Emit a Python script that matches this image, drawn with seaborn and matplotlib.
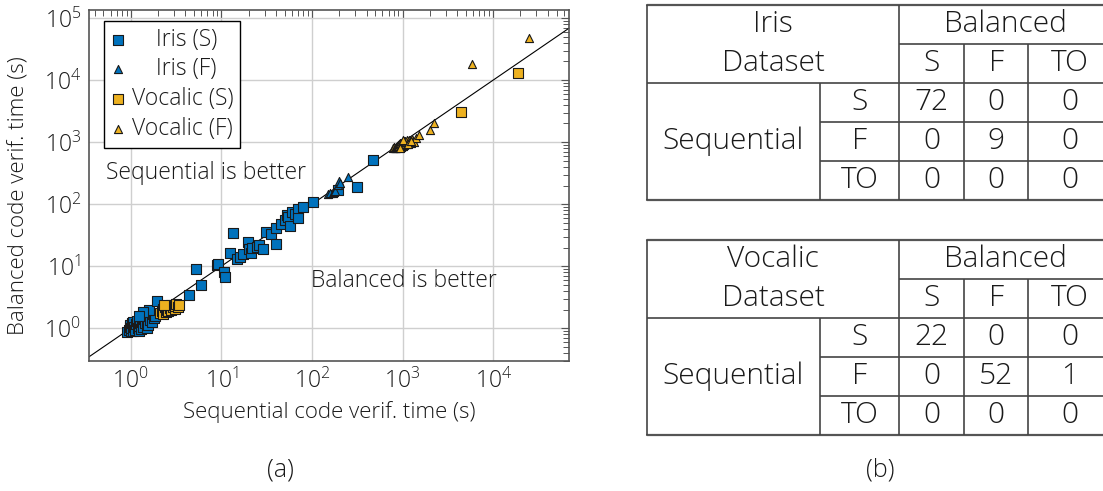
import matplotlib
matplotlib.use("Agg")
import matplotlib.pyplot as plt
import numpy as np
import pandas as pd
import seaborn as sns
from matplotlib.ticker import LogLocator, NullFormatter

# ---------------------------------------------------------------- data
# Verification times in seconds: (sequential, balanced)
iris_s_seq = [0.92, 0.95, 0.97, 0.98, 1.00, 1.02, 1.03, 1.05, 1.07, 1.10, 1.12, 1.15,
              1.18, 1.20, 1.22, 1.25, 1.28, 1.30, 1.32, 1.35, 1.40, 1.45, 1.50, 1.50,
              1.55, 1.60, 1.65, 1.70, 1.75, 1.80, 1.85, 1.60, 1.38, 1.95, 1.25,
              4.4, 5.25, 5.9, 9.0, 9.3, 10.7, 11.1, 12.6, 13.3, 15.0, 16.0, 17.4, 19.5,
              20.0, 21.0, 22.0, 24.5, 26.0, 28.5, 31.5, 35.0, 40.0, 40.6, 45.0, 50.3,
              52.5, 55.0, 57.0, 59.6, 65.0, 70.5, 70.5, 80.0, 103.0, 195.0, 314.0, 473.0]
iris_s_bal = [0.88, 0.95, 1.05, 1.12, 0.92, 1.00, 1.20, 0.90, 1.28, 1.05, 0.95, 1.15,
              1.30, 1.00, 0.92, 1.10, 1.22, 0.98, 1.28, 1.05, 1.40, 1.20, 1.00, 1.30,
              1.12, 1.60, 1.35, 1.25, 1.70, 1.45, 1.55, 1.95, 1.85, 2.70, 1.60,
              3.4, 8.9, 5.0, 10.5, 11.0, 8.2, 6.6, 16.6, 34.8, 13.0, 14.3, 15.8, 25.0,
              19.0, 16.6, 20.0, 20.7, 22.0, 18.8, 36.0, 33.0, 23.0, 40.8, 48.0, 55.7,
              67.0, 62.0, 44.6, 76.0, 70.0, 83.0, 59.0, 90.0, 110.0, 170.0, 187.0, 519.0]

iris_f_seq = [151, 160, 171, 175, 180, 195, 198, 205, 250]
iris_f_bal = [145, 150, 154, 160, 165, 204, 238, 220, 272]

vocalic_s_seq = [2.10, 2.20, 2.25, 2.30, 2.40, 2.45, 2.50, 2.55, 2.60, 2.70, 2.75,
                 2.80, 2.90, 3.00, 3.05, 3.10, 3.20, 3.30, 3.40, 2.35, 4370, 18800]
vocalic_s_bal = [1.75, 1.90, 2.05, 1.70, 2.20, 1.85, 2.00, 2.30, 1.90, 2.10, 2.35,
                 1.95, 2.20, 2.40, 2.05, 2.30, 2.45, 2.20, 2.35, 2.40, 3030, 13200]

vocalic_f_seq = [780, 800, 820, 840, 850, 860, 870, 880, 890, 900, 910, 920, 930, 940,
                 950, 960, 970, 980, 990, 1000, 1010, 1020, 1030, 1040, 1050, 1060,
                 1080, 1100, 1120, 1140, 1160, 1180, 1200, 1230, 1260, 1300, 1350,
                 1400, 940, 1000, 1150, 1250, 1510, 1995, 2210, 5880, 24800]
vocalic_f_bal = [800, 820, 790, 850, 800, 880, 830, 900, 860, 820, 940, 880, 850, 960,
                 900, 830, 980, 920, 870, 1010, 950, 880, 1040, 980, 900, 1060,
                 1000, 940, 1080, 1020, 960, 1100, 1050, 980, 1120, 1060, 1000,
                 1150, 800, 1100, 950, 1050, 1310, 1590, 2030, 18000, 47500]

series_labels = ["    Iris (S)", "    Iris (F)", "Vocalic (S)", "Vocalic (F)"]

# Outcome tables: rows = sequential (S, F, TO), columns = balanced (S, F, TO)
outcomes = ["S", "F", "TO"]
iris_counts = [[72, 0, 0], [0, 9, 0], [0, 0, 0]]
vocalic_counts = [[22, 0, 0], [0, 52, 1], [0, 0, 0]]

# ---------------------------------------------------------------- style
sns.set_theme(style="white")
plt.rcParams["font.family"] = ["Open Sans", "DejaVu Sans"]
plt.rcParams["font.weight"] = "light"
plt.rcParams["axes.labelweight"] = "light"
plt.rcParams["mathtext.fontset"] = "custom"
plt.rcParams["mathtext.rm"] = "Open Sans:light"
plt.rcParams["mathtext.it"] = "Open Sans:italic"
plt.rcParams["mathtext.bf"] = "Open Sans:bold"

BLUE = "#0072BD"
YELLOW = "#EDB120"
TXT = "#1a1a1a"
FS = 16.5
W, H = 1103, 491

fig = plt.figure(figsize=(W / 100, H / 100), dpi=100)
ax = fig.add_axes([89.3 / W, 1 - 360.7 / H, 480 / W, 350.7 / H])

frames = {
    series_labels[0]: (iris_s_seq, iris_s_bal, BLUE, "s", 46),
    series_labels[1]: (iris_f_seq, iris_f_bal, BLUE, "^", 34),
    series_labels[2]: (vocalic_s_seq, vocalic_s_bal, YELLOW, "s", 46),
    series_labels[3]: (vocalic_f_seq, vocalic_f_bal, YELLOW, "^", 34),
}
for label, (xs, ys, color, marker, size) in frames.items():
    df = pd.DataFrame({"seq": xs, "bal": ys})
    sns.scatterplot(data=df, x="seq", y="bal", ax=ax, color=color, marker=marker,
                    s=size, edgecolor="#1a1a1a", linewidth=0.8, label=label, zorder=3)

ax.set_xscale("log")
ax.set_yscale("log")
xlim = (10 ** -0.457, 10 ** 4.84)
ylim = (10 ** -0.523, 10 ** 5.13)
ax.set_xlim(*xlim)
ax.set_ylim(*ylim)

# y = x reference line
diag = np.array([min(xlim[0], ylim[0]), max(xlim[1], ylim[1])])
ax.plot(diag, diag, color="black", lw=0.8, zorder=2)

for axis in (ax.xaxis, ax.yaxis):
    axis.set_major_locator(LogLocator(base=10, numticks=10))
    axis.set_minor_locator(LogLocator(base=10, subs=np.arange(2, 10), numticks=20))
    axis.set_minor_formatter(NullFormatter())
ax.grid(True, which="major", color="#cfcfcf", lw=1.0, zorder=0)
ax.tick_params(which="both", direction="in", top=True, right=True, colors="#555555",
               labelcolor=TXT, labelsize=FS)
ax.tick_params(which="major", length=6, width=0.8, pad=6)
ax.tick_params(which="minor", length=4, width=0.7)
for sp in ax.spines.values():
    sp.set_color("#555555")
    sp.set_linewidth(1.2)

ax.set_xlabel("Sequential code verif. time (s)", fontsize=16, labelpad=5, color=TXT,
              fontweight="light")
ax.set_ylabel("Balanced code verif. time (s)", fontsize=16, color=TXT,
              fontweight="light")
ax.yaxis.set_label_coords(-0.124, 0.47)

ax.text(10 ** -0.27, 10 ** 2.5, "Sequential is better", fontsize=FS, va="center",
        ha="left", color=TXT)
ax.text(10 ** 1.99, 10 ** 0.76, "Balanced is better", fontsize=FS, va="center",
        ha="left", color=TXT)

leg = ax.legend(loc="upper left", bbox_to_anchor=(15 / 480, 1 - 10.7 / 350.7),
                borderaxespad=0, fontsize=FS, frameon=True, fancybox=False,
                handlelength=0.6, handletextpad=0.3, labelspacing=0.25,
                borderpad=0.3, markerscale=1.0)
leg.get_frame().set_edgecolor("black")
leg.get_frame().set_linewidth(1.0)
leg.get_frame().set_alpha(1.0)
for t in leg.get_texts():
    t.set_color(TXT)

fig.text(280 / W, 1 - 470 / H, "(a)", fontsize=18, ha="center", va="center", color=TXT)

# ---------------------------------------------------------------- tables
tax = fig.add_axes([0, 0, 1, 1], zorder=-1)
tax.set_xlim(0, W)
tax.set_ylim(H, 0)
tax.axis("off")

XL, XSEQ, XBAL, XC1, XC2, XR = 647, 820, 899, 964, 1028, 1112
ROW_OFF = [0, 39, 78, 117, 156, 195]
LC = "#444444"
TFS = 21.5


def draw_table(top, name, counts):
    y = [top + o for o in ROW_OFF]
    kw = dict(color=LC, lw=1.2, solid_capstyle="butt")
    tax.plot([XL, XR], [y[0], y[0]], color="#555555", lw=1.6)
    tax.plot([XL, XR], [y[5], y[5]], color="#555555", lw=1.6)
    tax.plot([XBAL, XR], [y[1], y[1]], **kw)
    tax.plot([XL, XR], [y[2], y[2]], **kw)
    tax.plot([XSEQ, XR], [y[3], y[3]], **kw)
    tax.plot([XSEQ, XR], [y[4], y[4]], **kw)
    tax.plot([XL, XL], [y[0], y[5]], **kw)
    tax.plot([XBAL, XBAL], [y[0], y[5]], **kw)
    tax.plot([XC1, XC1], [y[1], y[5]], **kw)
    tax.plot([XC2, XC2], [y[1], y[5]], **kw)
    tax.plot([XSEQ, XSEQ], [y[2], y[5]], **kw)

    tk = dict(fontsize=TFS, ha="center", va="center", color=TXT)
    cx = [(XBAL + XC1) / 2, (XC1 + XC2) / 2, (XC2 + XR) / 2]
    tax.text((XL + XBAL) / 2, (y[0] + y[1]) / 2, name, **tk)
    tax.text((XL + XBAL) / 2, (y[1] + y[2]) / 2, "Dataset", **tk)
    tax.text((XBAL + XR) / 2, (y[0] + y[1]) / 2, "Balanced", **tk)
    for j, lab in enumerate(outcomes):
        tax.text(cx[j], (y[1] + y[2]) / 2, lab, **tk)
    tax.text((XL + XSEQ) / 2, (y[2] + y[5]) / 2, "Sequential", **tk)
    for i, lab in enumerate(outcomes):
        yc = (y[2 + i] + y[3 + i]) / 2
        tax.text((XSEQ + XBAL) / 2, yc, lab, **tk)
        for j in range(3):
            tax.text(cx[j], yc, str(counts[i][j]), **tk)


draw_table(5, "Iris", iris_counts)
draw_table(240, "Vocalic", vocalic_counts)

fig.text(880 / W, 1 - 470 / H, "(b)", fontsize=18, ha="center", va="center", color=TXT)

fig.savefig("out.png", dpi=100)
